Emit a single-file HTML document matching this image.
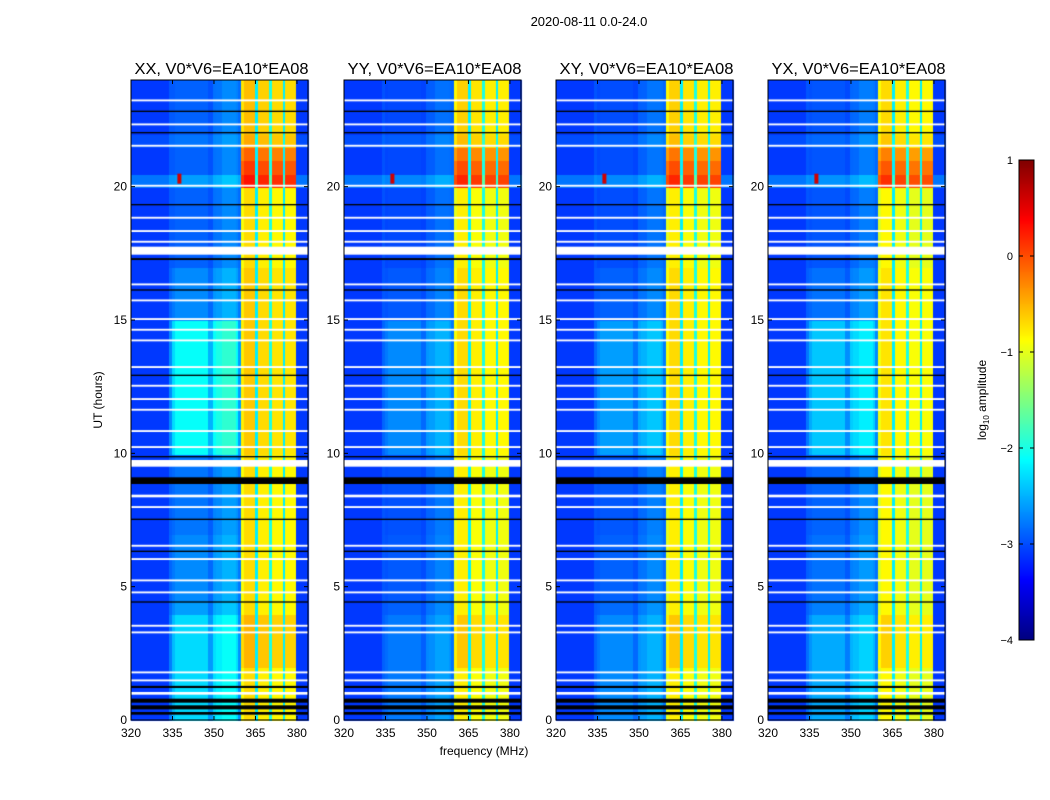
<!DOCTYPE html>
<html><head><meta charset="utf-8"><style>
html,body{margin:0;padding:0;background:#fff;width:1050px;height:800px;overflow:hidden}
#c{position:absolute;left:0;top:0}
#s{position:absolute;left:0;top:0}
text{font-family:"Liberation Sans","DejaVu Sans",sans-serif;fill:#000}
</style></head><body>
<canvas id="c" width="1050" height="800"></canvas>
<svg id="s" width="1050" height="800"></svg>
<script>
// ---- data ----
const panelTitles=["XX, V0*V6=EA10*EA08","YY, V0*V6=EA10*EA08","XY, V0*V6=EA10*EA08","YX, V0*V6=EA10*EA08"];
const panelHump=[1.0,0.4,0.5,0.7];
const panelBandOffset=[0,-0.1,-0.1,-0.15];
// log10 amplitude baseline per 1 MHz bin, 320..383
const colBase=[-3.1,-3.1,-3.1,-3.1,-3.1,-3.1,-3.1,-3.1,-3.1,-3.1,-3.1,-3.1,-3.1,-3.1,-3.0,-3.1,-3.1,-3.1,-3.1,-3.1,
-3.1,-3.1,-3.1,-3.1,-3.1,-3.1,-3.1,-3.1,-3.1,-3.1,-3.0,-3.0,-3.0,-2.9,-2.9,-2.9,-2.9,-2.9,-2.9,-2.9,
-0.9,-0.7,-0.7,-0.7,-0.7,-2.2,-0.8,-0.8,-0.8,-0.8,-2.0,-0.85,-0.85,-0.85,-0.85,-2.2,-0.85,-0.85,-0.85,-0.85,
-3.1,-3.1,-3.1,-3.1];
const humpProfile=[0,0,0,0,0,0,0,0,0,0,0,0,0,0,0.3,0.8,1,1,1,1,1,1,1,1,1,1,1,1,0.6,0.6,0.9,1,1,1,1,1,1,1,0.8,0.3,
0,0,0,0,0,0,0,0,0,0,0,0,0,0,0,0,0,0,0,0,0,0,0,0];
// per 0.5 h, t=0..24
const humpTime=[0.8,0.8,0.8,0.8,0.8,0.8,0.8,0.8,0.5,0.4,0.4,0.4,0.4,0.4,0.3,0.3,0.3,0.3,0.3,0.3,
1,1,1,1,1,1,1,1,1,1,0.4,0.4,0.4,0.4,0.2,0.2,0.2,0.2,0.2,0.2,0.2,0.2,0.2,0.2,0.2,0.2,0.2,0.2];
const bandBoost=[0,0,0,0,0.2,0.2,0.2,0.2,0,0,0,0,0,0,0,0,0,0,0,0,
0.1,0.1,0.1,0.1,0.1,0.1,0.1,0.1,0.1,0.1,0.1,0.1,0.1,0.1,0,0,0,0,0,0,0.7,0.8,0.6,0.15,0.15,0.15,0.15,0.15];
const rowOffset=[0,0,0,0,0,0,0,0,0,0,0,0,0,0,0,0,0,0,0,0,
0,0,0,0,0,0,0,0,0,0,0,0,0,0,0,0,0,0,0,0,0.3,0,0,0.1,0,0,0,0];
const whiteLines=[[0.95,1.05],[1.45,1.52],[1.75,1.82],[3.25,3.32],[3.5,3.57],[4.75,4.82],[5.2,5.27],[6.0,6.07],[6.5,6.57],
[7.95,8.02],[8.35,8.45],[9.5,9.75],[10.2,10.27],[10.8,10.87],[11.6,11.67],[12.0,12.07],[12.5,12.57],[13.2,13.27],
[14.2,14.27],[14.6,14.67],[15.0,15.07],[15.7,15.77],[16.3,16.37],[17.45,17.75],[17.9,17.97],[18.3,18.37],[18.8,18.87],
[20.0,20.07],[21.5,21.57],[22.3,22.37],[23.2,23.27]];
const blackLines=[[0.2,0.3],[0.4,0.55],[0.65,0.8],[1.2,1.28],[4.4,4.45],[6.3,6.35],[7.5,7.55],[8.85,9.1],[9.85,9.9],
[12.9,12.95],[16.1,16.15],[17.25,17.32],[19.3,19.35],[22.0,22.05],[22.8,22.85]];
const spikes=[[337.5,20.3,0.6]];
const xTicks=[320,335,350,365,380];
const yTicks=[0,5,10,15,20];
const cbTicks=[1,0,-1,-2,-3,-4];

// ---- layout ----
const panelLeft=[131,344,556,768], PW=177, PT=80, PB=720;
const FMIN=320,FMAX=384,TMAX=24, VMIN=-4,VMAX=1;
const xS=(p,f)=>panelLeft[p]+(f-FMIN)/(FMAX-FMIN)*PW;
const yS=t=>PB-t/TMAX*(PB-PT);
function jet(v){let t=Math.max(0,Math.min(1,(v-VMIN)/(VMAX-VMIN)));
 const c=x=>Math.round(255*Math.max(0,Math.min(1,x)));
 return `rgb(${c(1.5-Math.abs(4*t-3))},${c(1.5-Math.abs(4*t-2))},${c(1.5-Math.abs(4*t-1))})`;}
const ctx=document.getElementById('c').getContext('2d');
for(let p=0;p<4;p++){
 for(let fi=0;fi<colBase.length;fi++){
  const f0=FMIN+fi, x0=xS(p,f0), x1=xS(p,f0+1);
  for(let ti=0;ti<humpTime.length;ti++){
   const t0=ti*0.5, y0=yS(t0+0.5), y1=yS(t0);
   const inBand=colBase[fi]>-1.5;
   let v=colBase[fi]+humpProfile[fi]*humpTime[ti]*panelHump[p]+rowOffset[ti];
   if(inBand) v+=bandBoost[ti]+panelBandOffset[p];
   ctx.fillStyle=jet(v);
   ctx.fillRect(Math.floor(x0),Math.floor(y0),Math.ceil(x1-x0)+1,Math.ceil(y1-y0)+1);
  }
 }
 spikes.forEach(s=>{ctx.fillStyle=jet(s[2]);const x=xS(p,s[0]),y=yS(s[1]);ctx.fillRect(x-2,y-5,4,10);});
 whiteLines.forEach(l=>{ctx.fillStyle='#fff';const y0=yS(l[1]),y1=yS(l[0]);ctx.fillRect(panelLeft[p],y0,PW,Math.max(1.5,y1-y0));});
 blackLines.forEach(l=>{ctx.fillStyle='#000';const y0=yS(l[1]),y1=yS(l[0]);ctx.fillRect(panelLeft[p],y0,PW,Math.max(1,y1-y0));});
}
// colorbar
const CBX=1019,CBW=15,CBT=160,CBB=640;
const cbY=v=>CBB-(v-VMIN)/(VMAX-VMIN)*(CBB-CBT);
for(let y=CBT;y<CBB;y++){ctx.fillStyle=jet(VMIN+(CBB-y-0.5)/(CBB-CBT)*(VMAX-VMIN));ctx.fillRect(CBX,y,CBW,1);}

// ---- svg overlay ----
const svg=document.getElementById('s');const NS='http://www.w3.org/2000/svg';
function mk(tag,attrs,txt){const e=document.createElementNS(NS,tag);for(const k in attrs)e.setAttribute(k,attrs[k]);if(txt!==undefined)e.textContent=txt;svg.appendChild(e);return e;}
let e;
e=mk('text',{x:589,y:26,'text-anchor':'middle','font-size':13},'2020-08-11 0.0-24.0');


for(let p=0;p<4;p++){
 const L=panelLeft[p];
 e=mk('rect',{x:L,y:PT,width:PW,height:PB-PT,fill:'none',stroke:'#000','stroke-width':1});
 
 
 e=mk('text',{x:L+PW/2+2,y:74,'text-anchor':'middle','font-size':16,textLength:174,lengthAdjust:'spacingAndGlyphs'},panelTitles[p]);
 
 
 xTicks.forEach(f=>{const x=xS(p,f);
  mk('line',{x1:x,x2:x,y1:PB,y2:PB-4,stroke:'#000'});mk('line',{x1:x,x2:x,y1:PT,y2:PT+4,stroke:'#000'});
  e=mk('text',{x:x,y:737,'text-anchor':'middle','font-size':12},String(f));
  
  });
 yTicks.forEach(t=>{const y=yS(t);
  mk('line',{x1:L,x2:L+4,y1:y,y2:y,stroke:'#000'});mk('line',{x1:L+PW,x2:L+PW-4,y1:y,y2:y,stroke:'#000'});
  e=mk('text',{x:L-4,y:y+4,'text-anchor':'end','font-size':12},String(t));
  
  });
}
e=mk('text',{x:484,y:755,'text-anchor':'middle','font-size':12},'frequency (MHz)');


e=mk('text',{x:0,y:0,'text-anchor':'middle','font-size':12,transform:'translate(102,400) rotate(-90)'},'UT (hours)');


e=mk('rect',{x:CBX,y:CBT,width:CBW,height:CBB-CBT,fill:'none',stroke:'#000'});


cbTicks.forEach(v=>{const y=cbY(v);
 mk('line',{x1:CBX,x2:CBX+4,y1:y,y2:y,stroke:'#000'});mk('line',{x1:CBX+CBW,x2:CBX+CBW-4,y1:y,y2:y,stroke:'#000'});
 e=mk('text',{x:CBX-6,y:y+4,'text-anchor':'end','font-size':11},v<0?'\u2212'+(-v):String(v));
 
 });
e=mk('text',{x:0,y:0,'text-anchor':'middle','font-size':12,transform:'translate(986,400) rotate(-90)'});


e.innerHTML='log<tspan font-size="8" dy="3">10</tspan><tspan dy="-3"> amplitude</tspan>';
</script>
</body></html>
